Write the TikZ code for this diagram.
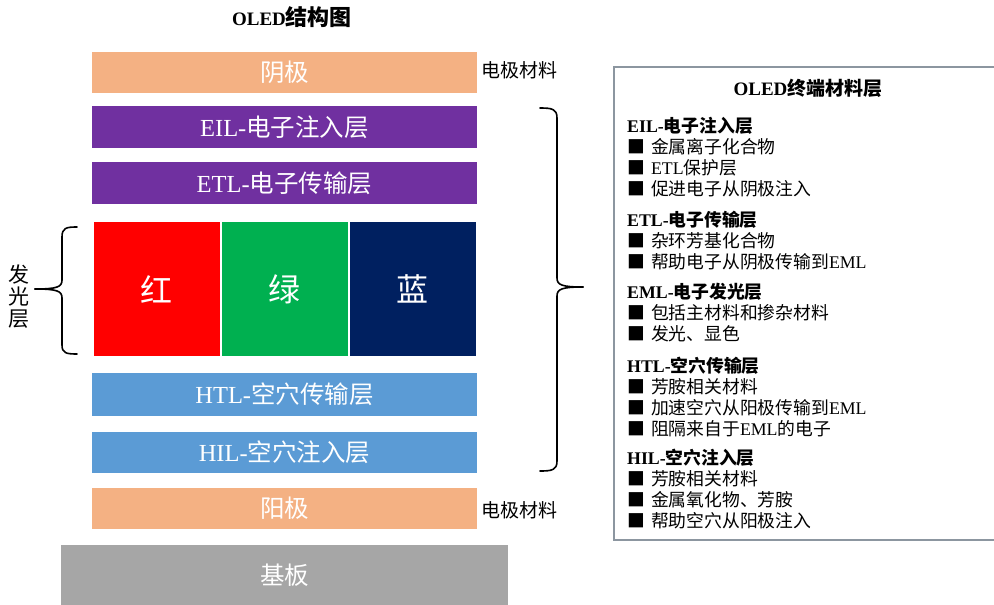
\documentclass[tikz,border=0pt]{standalone}
\usepackage{fontspec}
\setmainfont{Noto Sans CJK SC}
\newfontfamily\enfont{Liberation Serif}
\newcommand{\en}[1]{{\enfont #1}}
\newcommand{\bul}{■\hspace{6pt}}
\usepackage{tikz}
\usetikzlibrary{positioning}
\definecolor{electrodeorange}{HTML}{F4B183}
\definecolor{elecpurple}{HTML}{7030A0}
\definecolor{holeblue}{HTML}{5B9BD5}
\definecolor{emlred}{HTML}{FF0000}
\definecolor{emlgreen}{HTML}{00B050}
\definecolor{emlblue}{HTML}{002060}
\definecolor{basegray}{HTML}{A6A6A6}
\definecolor{framegray}{HTML}{8C96A0}
\tikzset{
  layerbox/.style = {rectangle, inner sep=0pt, outer sep=0pt, text=white,
    minimum width=385pt, minimum height=42pt, font=\fontsize{24.5}{28}\selectfont},
  lyr_c/.style = {layerbox, fill=electrodeorange},   % electrode
  lyr_e/.style = {layerbox, fill=elecpurple},        % electron side
  lyr_h/.style = {layerbox, fill=holeblue},          % hole side
  pix/.style = {rectangle, inner sep=0pt, outer sep=0pt, text=white,
    minimum width=126pt, minimum height=134pt, font=\fontsize{32}{36}\selectfont},
  side_txt/.style = {inner sep=0pt, font=\fontsize{19}{22}\selectfont},
  sect/.style = {inner sep=0pt, align=left, anchor=base west,
    font=\fontsize{17.8}{21}\selectfont},   % anchored at last line
  brace_line/.style = {line width=1.6pt, line cap=round, line join=round}
}

\begin{document}
\begin{tikzpicture}[x=1pt,y=-1pt]
    \useasboundingbox (0,0) rectangle (994,605);
    % title
    \node (title) at (292,17) {\bfseries{\fontsize{19}{22}\selectfont\en{OLED}}{\fontsize{22}{22}\selectfont 结构图}};
    % layer stack
    \node [lyr_c, minimum height=41pt] (cathode) at (284.5,72.5) {阴极};
    \node [lyr_e, below=13pt of cathode] (eil) {\en{EIL-}电子注入层};
    \node [lyr_e, below=14pt of eil] (etl) {\en{ETL-}电子传输层};
    \node [pix, fill=emlgreen, below=18pt of etl] (green) {绿};
    \node [pix, fill=emlred, left=2pt of green] (red) {红};
    \node [pix, fill=emlblue, right=2pt of green] (blue) {蓝};
    \node [lyr_h, minimum height=43pt, below=17pt of green] (htl) {\en{HTL-}空穴传输层};
    \node [lyr_h, minimum height=41pt, below=16pt of htl] (hil) {\en{HIL-}空穴注入层};
    \node [lyr_c, minimum height=41pt, below=15pt of hil] (anode) {阳极};
    \node [layerbox, fill=basegray, minimum width=447pt, minimum height=60pt,
        below=16pt of anode] (substrate) {基板};
    % electrode labels
    \node [side_txt] (cathode_lbl) at (519,70) {电极材料};
    \node [side_txt] (anode_lbl) at (519,510) {电极材料};
    % emitting layer brace
    \node [inner sep=0pt, align=center, font=\fontsize{21}{22}\selectfont] (eml_lbl) at (19,297) {发\\光\\层};
    \draw [brace_line] (77,227) .. controls (66,227) and (62,228) .. (62,237) -- (62,280)
        .. controls (62,287) and (57,289) .. (35,289);
    \draw [brace_line] (35,289) .. controls (57,289) and (62,291) .. (62,298) -- (62,345)
        .. controls (62,353) and (66,354) .. (77,354);
    % organic layers brace
    \draw [brace_line] (540,108) .. controls (552,108) and (557,109) .. (557,118) -- (557,278)
        .. controls (557,285) and (562,287) .. (583,287);
    \draw [brace_line] (583,287) .. controls (562,287) and (557,289) .. (557,296) -- (557,461)
        .. controls (557,470) and (552,471) .. (540,471);
    % material panel
    \draw [framegray, line width=1.3pt] (614,67) rectangle (1000,540);
    \node (panel_title) at (808,88) {\bfseries\fontsize{19}{22}\selectfont\en{OLED}终端材料层};
    \node [sect] (eil_txt) at (627,195) {\textbf{\en{EIL-}电子注入层}\\
        \bul 金属离子化合物\\ \bul \en{ETL}保护层\\ \bul 促进电子从阴极注入};
    \node [sect] (etl_txt) at (627,268) {\textbf{\en{ETL-}电子传输层}\\
        \bul 杂环芳基化合物\\ \bul 帮助电子从阴极传输到\en{EML}};
    \node [sect] (eml_txt) at (627,340) {\textbf{\en{EML-}电子发光层}\\
        \bul 包括主材料和掺杂材料\\ \bul 发光、显色};
    \node [sect] (htl_txt) at (627,435) {\textbf{\en{HTL-}空穴传输层}\\
        \bul 芳胺相关材料\\ \bul 加速空穴从阳极传输到\en{EML}\\ \bul 阻隔来自于\en{EML}的电子};
    \node [sect] (hil_txt) at (627,527) {\textbf{\en{HIL-}空穴注入层}\\
        \bul 芳胺相关材料\\ \bul 金属氧化物、芳胺\\ \bul 帮助空穴从阳极注入};
\end{tikzpicture}
\end{document}
